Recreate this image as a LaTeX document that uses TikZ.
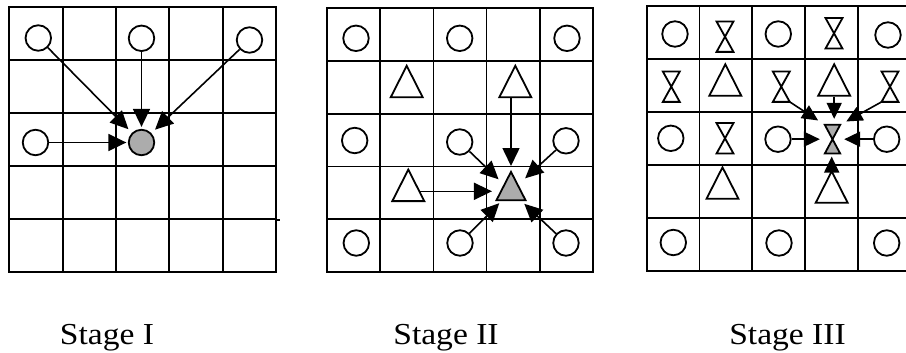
\documentclass[tikz,border=0pt]{standalone}
\usepackage{fontspec}
\setmainfont{Liberation Serif}
\newfontfamily\lblfont[FakeStretch=1.1]{Liberation Serif}
\usetikzlibrary{arrows.meta,shapes.geometric}
\begin{document}
\begin{tikzpicture}[x=1pt,y=-1pt,
  gridline/.style={line width=1.9pt, line cap=rect},
  circ/.style={draw, line width=1.8pt, circle, minimum size=25.5pt, inner sep=0pt, fill=white},
  gcirc/.style={circ, fill=gray!65},
  tri/.style={draw, line width=1.8pt, isosceles triangle, isosceles triangle stretches, shape border rotate=90, minimum width=32pt, minimum height=31.5pt, inner sep=0pt, fill=white},
  gtri/.style={tri, fill=gray!65, minimum width=29pt, minimum height=28.3pt},
  hg/.style={minimum width=16.5pt, minimum height=30pt, inner sep=0pt},
  ghg/.style={minimum width=15pt, minimum height=28.3pt, inner sep=0pt},
  hgline/.style={draw, line width=1.8pt, line join=miter},
  conn/.style={line width=1.6pt, -{Triangle[length=18pt,width=17pt]}},
  connsm/.style={line width=1.6pt, -{Triangle[length=16pt,width=15pt]}},
  lbl/.style={font=\lblfont\fontsize{30.5}{36}\selectfont, anchor=base, inner sep=0pt}
]
\clip (0,0) rectangle (906,353);
\fill[white] (0,0) rectangle (906,353);

% ---------- grids ----------
\foreach \i in {0,...,5} {
  \draw[gridline] ({9.3+53.34*\i},7.3) -- ({9.3+53.34*\i},272);
  \draw[gridline] (9.3,{7.3+52.94*\i}) -- (276,{7.3+52.94*\i});
  \draw[gridline] ({327.3+53.08*\i},8.3) -- ({327.3+53.08*\i},272);
  \draw[gridline] (327.3,{8.3+52.74*\i}) -- (592.7,{8.3+52.74*\i});
  \draw[gridline] ({646.7+52.75*\i},6) -- ({646.7+52.75*\i},271);
  \draw[gridline] (646.7,{6+53*\i}) -- (910,{6+53*\i});
}
\draw[gridline] (276,220) -- (279,220);

% ---------- Stage I ----------
\node[circ] (a1) at (38.3,38) {};
\node[circ] (a2) at (141.5,38.3) {};
\node[circ] (a3) at (249.5,40) {};
\node[circ] (a4) at (35.5,142.5) {};
\node[gcirc] (A) at (141.5,142.5) {};
\draw[conn, shorten >=5pt] (a1) -- (A);
\draw[conn, shorten >=2pt] (a2) -- (A);
\draw[conn, shorten >=5pt] (a3) -- (A);
\draw[conn, shorten >=1.5pt] (a4) -- (A);

% ---------- Stage II ----------
\node[circ] (b1) at (356,38.3) {};
\node[circ] (b2) at (459.7,38.3) {};
\node[circ] (b3) at (567,38.3) {};
\node[circ] (b4) at (354.7,140.5) {};
\node[circ] (b5) at (459.7,142) {};
\node[circ] (b6) at (566,140.8) {};
\node[circ] (b7) at (356.3,243) {};
\node[circ] (b8) at (460,243) {};
\node[circ] (b9) at (566,243) {};
\node[tri] (bt1) at (406.7,87.5) {};
\node[tri] (bt2) at (515.3,87.5) {};
\node[tri] (bt3) at (408.3,191.3) {};
\node[gtri] (B) at (511,191.3) {};
\draw[conn, shorten >=3.5pt] (bt2.south -| B.apex) -- (B.apex);
\draw[conn, shorten >=7pt] (b5) -- (B);
\draw[conn, shorten >=9pt] (b6) -- (B);
\draw[conn, shorten >=8pt] (bt3) -- (B);
\draw[conn, shorten >=3pt] (b8) -- (B);
\draw[conn, shorten >=4pt] (b9) -- (B);

% ---------- Stage III ----------
\node[circ] (c1) at (675,34) {};
\node[circ] (c2) at (778.3,34) {};
\node[circ] (c3) at (888,35) {};
\node[circ] (c4) at (670.8,138.3) {};
\node[circ] (c5) at (778,139.2) {};
\node[circ] (c6) at (886.7,139.2) {};
\node[circ] (c7) at (673.3,242.5) {};
\node[circ] (c8) at (779,243) {};
\node[circ] (c9) at (886.7,243) {};
\node[tri] (ct1) at (725.3,86) {};
\node[tri] (ct2) at (834.2,86) {};
\node[tri] (ct3) at (722.5,189) {};
\node[tri] (ct4) at (831.7,193) {};
\foreach \n/\x/\y in {ch1/725/36.7, ch2/834/33.3, ch3/671.3/86.7, ch4/781.3/86.7, ch5/890/86.7, ch6/725/138.3} {
  \node[hg] (\n) at (\x,\y) {};
  \draw[hgline] (\n.north west) -- (\n.north east) -- (\n.south west) -- (\n.south east) -- cycle;
}
\node[ghg] (C) at (832.5,139.2) {};
\filldraw[hgline, fill=gray!65] (C.north west) -- (C.north east) -- (C.south west) -- (C.south east) -- cycle;
\draw[connsm, shorten >=8pt] (ch4.south east) -- (C.north west);
\draw[connsm, shorten >=6pt] (ct2.south) -- (ct2.south |- C.north);
\draw[connsm, shorten >=7pt] (ch5.south west) -- (C.north east);
\draw[connsm, shorten >=5pt] (c5) -- (C);
\draw[connsm, shorten >=4pt] (c6) -- (C);
\draw[connsm, shorten >=3pt] (ct4.apex) -- (ct4.apex |- C.south);

% ---------- labels ----------
\node[lbl] (s1) at (107,344) {Stage I};
\node[lbl] (s2) at (446,344) {Stage II};
\node[lbl] (s3) at (787.5,344) {Stage III};
\end{tikzpicture}
\end{document}
